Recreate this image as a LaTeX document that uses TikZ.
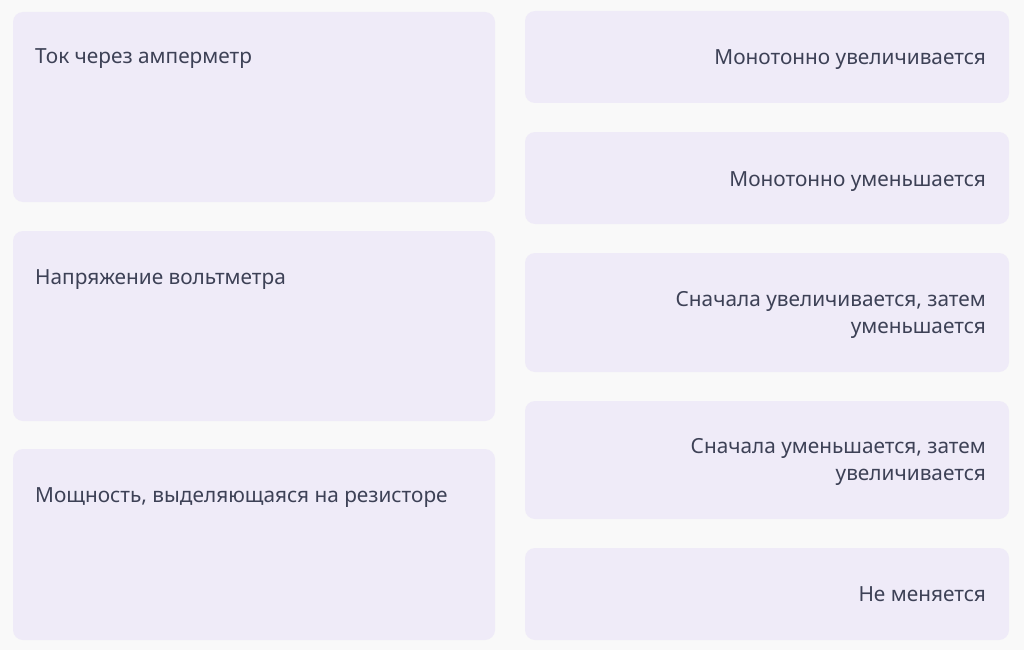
\documentclass[tikz,border=0pt]{standalone}
\usepackage{fontspec}
\setmainfont{Noto Sans}
\usetikzlibrary{calc}

\definecolor{fondo}{HTML}{F9F9F9}
\definecolor{riquadro}{HTML}{EFEBF8}
\definecolor{testo}{HTML}{3D4156}

\begin{document}
\begin{tikzpicture}[x=1pt,y=-1pt,font=\fontsize{20.8}{27}\selectfont,
  box/.style={fill=riquadro,rounded corners=10pt,draw=none},
  txt/.style={text=testo,inner sep=0pt}]

\fill[fondo] (0,0) rectangle (1024,650);
\useasboundingbox (0,0) rectangle (1024,650);

%Colonna sinistra

\begin{scope}
\fill[box] (13,12) rectangle (495,202);
\fill[box] (13,231) rectangle (495,421);
\fill[box] (13,449) rectangle (495,640);
\coordinate (l1) at (35,64);
\coordinate (l2) at (35,284);
\coordinate (l3) at (35,502);

\node[txt,anchor=base west] (tok) at (l1) {Ток через амперметр};
\node[txt,anchor=base west] (nap) at (l2) {Напряжение вольтметра};
\node[txt,anchor=base west] (mos) at (l3) {Мощность, выделяющаяся на резисторе};
\end{scope}

%Colonna destra

\begin{scope}
\fill[box] (525,11) rectangle (1009,103);
\fill[box] (525,132) rectangle (1009,224);
\fill[box] (525,253) rectangle (1009,372);
\fill[box] (525,401) rectangle (1009,519);
\fill[box] (525,548) rectangle (1009,640);
\coordinate (r1) at (986,65);
\coordinate (r2) at (986,186);
\coordinate (r3) at (986,306);
\coordinate (r4) at (986,453);
\coordinate (r5) at (986,601);

\node[txt,anchor=base east] (inc) at (r1) {Монотонно увеличивается};
\node[txt,anchor=base east] (dec) at (r2) {Монотонно уменьшается};
\node[txt,anchor=base east] (incdec) at (r3) {Сначала увеличивается, затем};
\node[txt,anchor=base east] (incdecb) at ($(r3)+(0,27)$) {уменьшается};
\node[txt,anchor=base east] (decinc) at (r4) {Сначала уменьшается, затем};
\node[txt,anchor=base east] (decincb) at ($(r4)+(0,27)$) {увеличивается};
\node[txt,anchor=base east] (cost) at (r5) {Не меняется};
\end{scope}

\end{tikzpicture}
\end{document}
